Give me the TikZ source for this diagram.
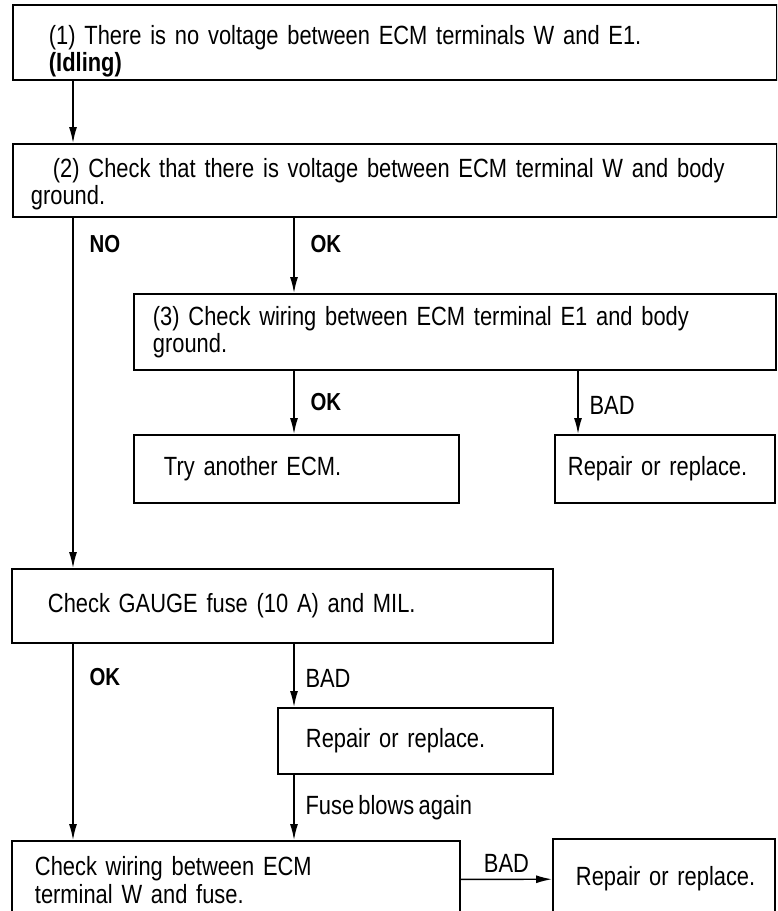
\documentclass[tikz,border=0pt]{standalone}
\usepackage{fontspec}
\setmainfont{Liberation Sans}[FakeStretch=0.83, WordSpace=0.7]
\usetikzlibrary{arrows.meta}

\begin{document}
\begin{tikzpicture}[x=0.02cm, y=-0.02cm, font=\fontsize{15}{15.5}\selectfont]
    \tikzstyle{block} = [draw, rectangle, line width=1.1pt, anchor=north west, align=left, inner ysep=0pt]
    \tikzstyle{line} = [draw, line width=0.8pt, -{Latex[length=9pt, width=4.5pt]}]
    \tikzstyle{answer} = [right, xshift=0.2cm, font=\fontsize{14}{15}\selectfont\bfseries]
    \tikzstyle{result} = [right, xshift=0.1cm]

    \useasboundingbox (0,0) rectangle (777,911);
    \clip (0,0) rectangle (777,911);

    % columns of the vertical connectors
    \coordinate (colA) at (73,0);
    \coordinate (colB) at (294,0);
    \coordinate (colC) at (578,0);

    \node [block, minimum width=15.28cm, minimum height=1.5cm, text width=13.84cm, inner xsep=0.72cm] (idle) at (12,4) {\rule{0pt}{0.72cm}(1) There is no voltage between ECM terminals W and E1.\\ \textbf{(Idling)}};
    \node [block, minimum width=15.28cm, minimum height=1.46cm, text width=14.56cm, inner xsep=0.36cm] (volt) at (12,143) {\rule{0pt}{0.52cm}\hspace*{0.44cm}(2) Check that there is voltage between ECM terminal W and body\\ ground.};
    \node [block, minimum width=12.84cm, minimum height=1.52cm, text width=12.08cm, inner xsep=0.38cm] (wire) at (133,293) {(3) Check wiring between ECM terminal E1 and body\\ ground.};
    \node [block, minimum width=6.5cm, minimum height=1.36cm, text width=5.3cm, inner xsep=0.6cm] (ecm) at (133,434) {Try another ECM.};
    \node [block, minimum width=4.4cm, minimum height=1.36cm, text width=3.88cm, inner xsep=0.26cm] (fixa) at (554,434) {Repair or replace.};
    \node [block, minimum width=10.82cm, minimum height=1.48cm, text width=9.38cm, inner xsep=0.72cm] (fuse) at (11,568) {Check GAUGE fuse (10 A) and MIL.};
    \node [block, minimum width=5.5cm, minimum height=1.32cm, text width=4.38cm, inner xsep=0.56cm] (fixb) at (277,707) {Repair or replace.};
    \node [block, minimum width=8.96cm, minimum height=1.56cm, text width=8.04cm, inner xsep=0.46cm] (wirew) at (11,840) {Check wiring between ECM\\ terminal W and fuse.};
    \node [block, minimum width=4.44cm, minimum height=1.6cm, text width=4.04cm, inner xsep=0.2cm] (fixc) at (552,838) {\hspace*{0.26cm}Repair or replace.};

    \path [line] (idle.south -| colA) -- (volt.north -| colA);
    \path [line] (volt.south -| colA) -- node[answer, pos=0.075] {NO} (fuse.north -| colA);
    \path [line] (volt.south -| colB) -- node[answer, pos=0.35] {OK} (wire.north -| colB);
    \path [line] (wire.south -| colB) -- node[answer, pos=0.5] {OK} (ecm.north -| colB);
    \path [line] (wire.south -| colC) -- node[result, pos=0.55] {BAD} (fixa.north -| colC);
    \path [line] (fuse.south -| colA) -- node[answer, pos=0.17] {OK} (wirew.north -| colA);
    \path [line] (fuse.south -| colB) -- node[result, pos=0.54] {BAD} (fixb.north -| colB);
    \path [line] (fixb.south -| colB) -- node[result, pos=0.5] {Fuse blows again} (wirew.north -| colB);
    \path [line] (wirew) -- node[above] {BAD} (fixc);
\end{tikzpicture}
\end{document}
